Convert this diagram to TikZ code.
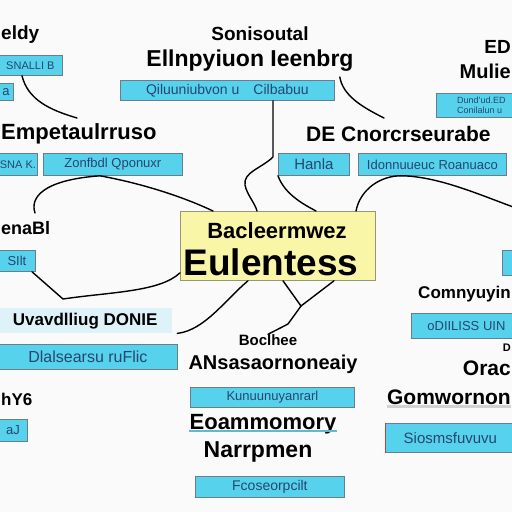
\documentclass[tikz,border=0pt]{standalone}
\usepackage{fontspec}
\setmainfont{Liberation Sans}
\definecolor{cyanfill}{RGB}{86,210,236}
\definecolor{paleblue}{RGB}{222,243,249}
\definecolor{boxline}{RGB}{105,125,140}
\definecolor{boxtext}{RGB}{38,70,112}
\definecolor{notefill}{RGB}{250,246,168}
\definecolor{noteline}{RGB}{150,150,120}
\definecolor{paper}{RGB}{250,250,250}
\tikzset{
  cbox/.style={draw=boxline, fill=cyanfill, text=boxtext, inner sep=1pt, line width=0.8pt, anchor=north west, font=\fontsize{13}{14}\selectfont},
  head/.style={inner sep=0pt, font=\bfseries\fontsize{#1}{#1}\selectfont},
  head/.default=18,
  link/.style={line width=1.4pt, line cap=round, line join=round},
}
\begin{document}
\begin{tikzpicture}[x=1pt,y=-1pt]
\fill[paper] (0,0) rectangle (512,512); % background
\useasboundingbox (0,0) rectangle (512,512);
\clip (0,0) rectangle (512,512);

% top left
\node[head=19, anchor=west] (tlhead) at (1,35) {eldy};
\node[cbox, minimum width=64pt, minimum height=20pt, font=\fontsize{11}{12}\selectfont] (tlbox) at (-2,55) {SNALLI B};
\node[cbox, minimum width=15pt, minimum height=17pt] (tlsmall) at (-2,83) {a};

% top centre
\node[head=19] (tchead) at (260,34) {Sonisoutal};
\node[head=23] (tctitle) at (250,61) {Ellnpyiuon Ieenbrg};
\node[cbox, minimum width=214pt, minimum height=20pt, font=\fontsize{14}{15}\selectfont] (tcbox) at (120,80) {Qiluuniubvon u\quad Cilbabuu};

% top right
\node[head=19, anchor=east] (trhead) at (511,47) {ED};
\node[head=20, anchor=east] (trtitle) at (511,71) {Mulie};
\node[cbox, minimum width=90pt, minimum height=24pt, align=left, font=\fontsize{9}{10}\selectfont] (trbox) at (436,93) {Dund'ud.ED\\Conilalun u};

% middle left
\node[head=22, anchor=west] (lhead) at (1,134) {Empetaulrruso};
\node[cbox, minimum width=39pt, minimum height=22pt, font=\fontsize{11}{12}\selectfont] (lbox1) at (-2,153) {SNA K.};
\node[cbox, minimum width=139pt, minimum height=22pt] (lbox2) at (43,153) {Zonfbdl Qponuxr};
\node[head=18, anchor=west] (lhead2) at (1,228) {enaBl};
\node[cbox, minimum width=37pt, minimum height=21pt] (lbox3) at (-2,250) {SIlt};

% centre
\node[draw=noteline, fill=notefill, line width=0.8pt, anchor=north west, minimum width=195pt, minimum height=69pt] (cen) at (180,211) {};
\node[head=22] (centop) at (277,231) {Bacleermwez};
\node[head=37] (cenmain) at (271,262) {Eulentess};

% middle right
\node[head=21, anchor=west] (rhead) at (306,134) {DE Cnorcrseurabe};
\node[cbox, minimum width=71pt, minimum height=22pt, font=\fontsize{15}{16}\selectfont] (rbox3) at (278,153) {Hanla};
\node[cbox, minimum width=148pt, minimum height=22pt] (rbox4) at (358,153) {Idonnuueuc Roanuaco};
\node[cbox, minimum width=15pt, minimum height=25pt] (rsmall) at (502,250) {};

% lower left
\node[fill=paleblue, anchor=north west, minimum width=174pt, minimum height=25pt, inner sep=0pt, font=\bfseries\fontsize{17}{17}\selectfont] (lpale) at (-2,308) {Uvavdlliug DONIE};
\node[cbox, minimum width=179pt, minimum height=25pt, font=\fontsize{16}{17}\selectfont] (lbox4) at (-2,344) {Dlalsearsu ruFlic};
\node[head=17, anchor=west] (lhead3) at (1,399) {hY6};
\node[cbox, minimum width=29pt, minimum height=22pt] (lbox5) at (-2,419) {aJ};

% lower centre
\node[head=15] (bchead) at (268,340) {Boclhee};
\node[head=20] (bctitle) at (273,364) {ANsasaornoneaiy};
\node[cbox, minimum width=164pt, minimum height=20pt] (bcbox1) at (190,387) {Kunuunuyanrarl};
\node[head=22] (bchead2) at (263,424) {Eoammomory};
\draw[cyanfill!70!gray, line width=1.2pt] ([yshift=3pt]bchead2.south west) -- ([yshift=3pt]bchead2.south east); % underline
\node[head=23] (bchead3) at (258,452) {Narrpmen};
\node[cbox, minimum width=149pt, minimum height=21pt, font=\fontsize{14}{15}\selectfont] (bcbox2) at (195,476) {Fcoseorpcilt};

% lower right
\node[head=17, anchor=east] (rhead2) at (511,294) {Comnyuyin};
\node[cbox, minimum width=110pt, minimum height=25pt, font=\fontsize{13}{14}\selectfont] (rbox1) at (411,313) {oDIILISS UIN};
\node[head=11, anchor=east] (rD) at (511,348) {D};
\node[head=21, anchor=east] (rhead3) at (511,368) {Orac};
\node[head=21, anchor=east] (rhead4) at (511,397) {Gomwornon};
\draw[gray!35, line width=3pt] ([yshift=-2pt]rhead4.south west) -- ([yshift=-2pt]rhead4.south east); % shadow
\node[cbox, minimum width=130pt, minimum height=29pt, font=\fontsize{15}{16}\selectfont] (rbox2) at (385,423) {Siosmsfuvuvu};
\draw[red!50!gray, line width=1pt] (rbox2.north west) -- (rbox2.south west);

% connectors
\coordinate (ltip) at (77,118);
\coordinate (tctip) at (384,118);
\coordinate (lhook) at (35,213);
\coordinate (ymeet) at (301,306);
\coordinate (redge) at (516,208);

\draw[link] ([xshift=24pt]tlbox.south west) .. controls (28,100) and (50,110) .. (ltip);
\draw[link] ([xshift=5pt,yshift=3pt]tcbox.north east) .. controls (343,95) and (360,106) .. (tctip);
\draw[link] ([xshift=153pt]tcbox.south west) -- (273,157) .. controls (262,168) and (243,172) .. (245,185) .. controls (247,195) and (255,203) .. ([xshift=77pt]cen.north west);
\draw[link] (lhook) .. controls (30,198) and (42,180) .. ([xshift=57pt]lbox2.south west) .. controls (150,185) and (190,200) .. ([xshift=33pt]cen.north west);
\draw[link] ([xshift=34pt]lbox3.south west) -- (63,299) .. controls (110,292) and (160,292) .. ([yshift=8pt]cen.south west);
\draw[link] ([xshift=5pt]lpale.south east) .. controls (205,330) and (225,300) .. ([xshift=68pt]cen.south west);
\draw[link] ([xshift=103pt]cen.south west) -- (ymeet) -- ([xshift=154pt]cen.south west);
\draw[link] (ymeet) -- (288,324) -- (bchead.north);
\draw[link] (rbox3.south west) .. controls (285,195) and (305,205) .. ([xshift=136pt]cen.north west);
\draw[link] ([xshift=176pt]cen.north west) .. controls (360,190) and (380,175) .. ([xshift=45pt]rbox4.south west) .. controls (440,177) and (480,195) .. (redge);
\end{tikzpicture}
\end{document}
